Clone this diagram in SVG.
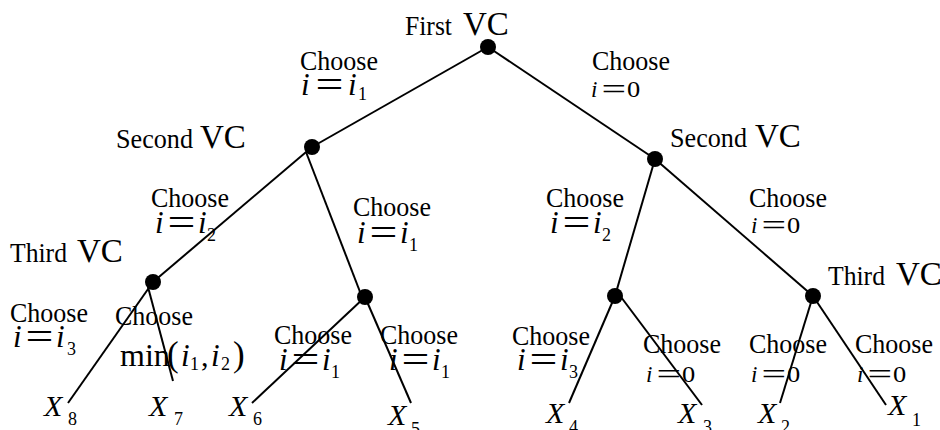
<svg xmlns="http://www.w3.org/2000/svg" width="940" height="430" viewBox="0 0 940 430">
<style>
.t{font-family:"Liberation Serif","Times New Roman",serif;fill:#000}
.w{font-size:28px}
.vc{font-size:33px}
.m{font-size:31px;font-style:italic}
.u{font-size:30px}
.sm{font-size:23px;font-style:italic}
.su{font-size:23px}
.sub{font-size:18px}
.x{font-size:30px;font-style:italic}
.e{stroke:#000;stroke-width:2;fill:none}
.dot{fill:#000}
</style>
<defs>
<g id="eqL"><text class="t u" transform="translate(-1.6,3) scale(1.65,1.3)">=</text></g>
<g id="eqS"><text class="t su" transform="translate(-1.5,2) scale(1.9,1.3)">=</text></g>
</defs>
<g id="connectors">
<path class="e" d="M488 47L312 147"/>
<path class="e" d="M488 47L655 159"/>
<path class="e" d="M312 147L153 282"/>
<path class="e" d="M306 152L362 297"/>
<path class="e" d="M153 282L68 403"/>
<path class="e" d="M148 287L173 381"/>
<path class="e" d="M365 297L252 403"/>
<path class="e" d="M365 297L411 403"/>
<path class="e" d="M655 159L615 296"/>
<path class="e" d="M655 159L813 296"/>
<path class="e" d="M615 296L569 403"/>
<path class="e" d="M618 293L702 405"/>
<path class="e" d="M813 296L780 403"/>
<path class="e" d="M813 296L886 405"/>
</g>
<g id="n-root"><circle class="dot" cx="488" cy="47" r="8"/><text class="t w" x="405" y="35" textLength="47" lengthAdjust="spacingAndGlyphs">First</text><text class="t vc" x="463" y="35">VC</text></g>
<g id="n-second-left"><circle class="dot" cx="312" cy="147" r="8"/><text class="t w" x="116" y="148" textLength="77" lengthAdjust="spacingAndGlyphs">Second</text><text class="t vc" x="200" y="148">VC</text></g>
<g id="n-second-right"><circle class="dot" cx="655" cy="159" r="8"/><text class="t w" x="670" y="147" textLength="77" lengthAdjust="spacingAndGlyphs">Second</text><text class="t vc" x="755" y="147">VC</text></g>
<g id="n-third-left"><circle class="dot" cx="153" cy="282" r="8"/><text class="t w" x="10" y="262" textLength="57" lengthAdjust="spacingAndGlyphs">Third</text><text class="t vc" x="77" y="262">VC</text></g>
<g id="n-mid-left"><circle class="dot" cx="365" cy="297" r="8"/></g>
<g id="n-mid-right"><circle class="dot" cx="615" cy="296" r="8"/></g>
<g id="n-third-right"><circle class="dot" cx="813" cy="296" r="8"/><text class="t w" x="828" y="285" textLength="57" lengthAdjust="spacingAndGlyphs">Third</text><text class="t vc" x="896" y="285">VC</text></g>
<g id="leaf-x8"><text class="t x" x="44" y="416">X</text><text class="t sub" x="68" y="425">8</text></g>
<g id="leaf-x7"><text class="t x" x="149" y="416">X</text><text class="t sub" x="174" y="425">7</text></g>
<g id="leaf-x6"><text class="t x" x="229" y="416">X</text><text class="t sub" x="253" y="425">6</text></g>
<g id="leaf-x5"><text class="t x" x="388" y="425">X</text><text class="t sub" x="411" y="435">5</text></g>
<g id="leaf-x4"><text class="t x" x="546" y="423">X</text><text class="t sub" x="569" y="433">4</text></g>
<g id="leaf-x3"><text class="t x" x="678" y="423">X</text><text class="t sub" x="703" y="433">3</text></g>
<g id="leaf-x2"><text class="t x" x="758" y="423">X</text><text class="t sub" x="781" y="433">2</text></g>
<g id="leaf-x1"><text class="t x" x="888" y="415">X</text><text class="t sub" x="912" y="426">1</text></g>
<g id="labels">
<text class="t w" x="300" y="70" textLength="78" lengthAdjust="spacingAndGlyphs">Choose</text>
<g transform="translate(301,95)"><text class="t m">i</text><use href="#eqL" x="16"/><text class="t m" x="47">i</text><text class="t sub" x="57" y="5">1</text></g>
<text class="t w" x="592" y="70" textLength="78" lengthAdjust="spacingAndGlyphs">Choose</text>
<g transform="translate(591,97)"><text class="t sm">i</text><use href="#eqS" x="12"/><text class="t su" transform="translate(36,0) scale(1.15,1)">0</text></g>
<text class="t w" x="151" y="207" textLength="78" lengthAdjust="spacingAndGlyphs">Choose</text>
<g transform="translate(155,233)"><text class="t m">i</text><use href="#eqL" x="14"/><text class="t m" x="43">i</text><text class="t sub" x="52" y="8">2</text></g>
<text class="t w" x="353" y="216" textLength="78" lengthAdjust="spacingAndGlyphs">Choose</text>
<g transform="translate(357,243)"><text class="t m">i</text><use href="#eqL" x="14"/><text class="t m" x="43">i</text><text class="t sub" x="52" y="8">1</text></g>
<text class="t w" x="546" y="207" textLength="78" lengthAdjust="spacingAndGlyphs">Choose</text>
<g transform="translate(550,233)"><text class="t m">i</text><use href="#eqL" x="14"/><text class="t m" x="43">i</text><text class="t sub" x="52" y="8">2</text></g>
<text class="t w" x="749" y="207" textLength="78" lengthAdjust="spacingAndGlyphs">Choose</text>
<g transform="translate(751,233)"><text class="t sm">i</text><use href="#eqS" x="12"/><text class="t su" transform="translate(36,0) scale(1.15,1)">0</text></g>
<text class="t w" x="10" y="322" textLength="78" lengthAdjust="spacingAndGlyphs">Choose</text>
<g transform="translate(13,347)"><text class="t m">i</text><use href="#eqL" x="14"/><text class="t m" x="43">i</text><text class="t sub" x="54" y="8">3</text></g>
<text class="t w" x="115" y="325" textLength="78" lengthAdjust="spacingAndGlyphs">Choose</text>
<g transform="translate(120,366)"><text class="t" style="font-size:32px">min</text><text class="t" style="font-size:35px" x="47">(</text><text class="t m" x="61">i</text><text class="t sub" x="70" y="4">1</text><text class="t u" x="81">,</text><text class="t m" x="91">i</text><text class="t sub" x="101" y="4">2</text><text class="t" style="font-size:35px" x="113">)</text></g>
<text class="t w" x="274" y="344" textLength="78" lengthAdjust="spacingAndGlyphs">Choose</text>
<g transform="translate(279,370)"><text class="t m">i</text><use href="#eqL" x="14"/><text class="t m" x="43">i</text><text class="t sub" x="52" y="8">1</text></g>
<text class="t w" x="380" y="344" textLength="78" lengthAdjust="spacingAndGlyphs">Choose</text>
<g transform="translate(389,370)"><text class="t m">i</text><use href="#eqL" x="14"/><text class="t m" x="43">i</text><text class="t sub" x="52" y="8">1</text></g>
<text class="t w" x="512" y="345" textLength="78" lengthAdjust="spacingAndGlyphs">Choose</text>
<g transform="translate(517,370)"><text class="t m">i</text><use href="#eqL" x="14"/><text class="t m" x="43">i</text><text class="t sub" x="52" y="8">3</text></g>
<text class="t w" x="643" y="353" textLength="78" lengthAdjust="spacingAndGlyphs">Choose</text>
<g transform="translate(646,382)"><text class="t sm">i</text><use href="#eqS" x="12"/><text class="t su" transform="translate(36,0) scale(1.15,1)">0</text></g>
<text class="t w" x="749" y="353" textLength="78" lengthAdjust="spacingAndGlyphs">Choose</text>
<g transform="translate(751,382)"><text class="t sm">i</text><use href="#eqS" x="12"/><text class="t su" transform="translate(36,0) scale(1.15,1)">0</text></g>
<text class="t w" x="855" y="353" textLength="78" lengthAdjust="spacingAndGlyphs">Choose</text>
<g transform="translate(857,382)"><text class="t sm">i</text><use href="#eqS" x="12"/><text class="t su" transform="translate(36,0) scale(1.15,1)">0</text></g>
</g>
</svg>
